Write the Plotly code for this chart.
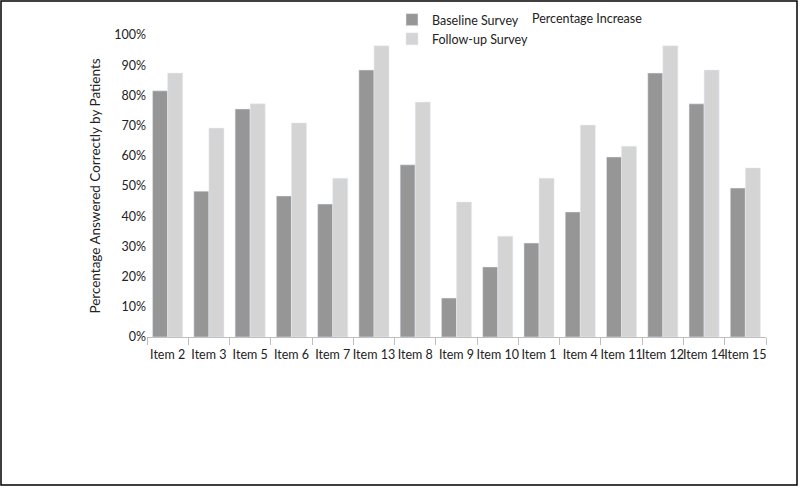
import plotly.graph_objects as go

items = ["Item 2", "Item 3", "Item 5", "Item 6", "Item 7", "Item 13", "Item 8", "Item 9",
         "Item 10", "Item 1", "Item 4", "Item 11", "Item 12", "Item 14", "Item 15"]
baseline = [0.815, 0.483, 0.755, 0.467, 0.44, 0.884, 0.57, 0.129,
            0.232, 0.311, 0.414, 0.596, 0.874, 0.772, 0.493]
followup = [0.874, 0.692, 0.772, 0.709, 0.526, 0.964, 0.778, 0.447,
            0.334, 0.526, 0.702, 0.632, 0.964, 0.884, 0.56]

fnt = "Lato, 'Open Sans', sans-serif"

fig = go.Figure()
fig.add_trace(go.Bar(x=items, y=baseline, name="Baseline Survey", marker_color="#969696"))
fig.add_trace(go.Bar(x=items, y=followup, name="Follow-up Survey", marker_color="#d4d4d4"))

# plot area: x 147..766, y 35..337 (pixels)
L, R, T, B = 147, 34, 35, 151
pw, ph = 800 - L - R, 488 - T - B

fig.update_layout(
    width=800, height=488,
    margin=dict(l=L, r=R, t=T, b=B, autoexpand=False),
    plot_bgcolor="white", paper_bgcolor="white",
    barmode="group", bargap=0.27, bargroupgap=0,
    font=dict(family=fnt, size=12, color="#222"),
    legend=dict(x=(392 - L) / pw, y=(337 - 5) / ph, xanchor="left", yanchor="top",
                bgcolor="rgba(0,0,0,0)", font=dict(size=12.5), tracegroupgap=0,
                itemwidth=30),
    showlegend=True,
)
fig.update_xaxes(showline=True, linecolor="#bfbfbf", ticks="outside", tickson="boundaries",
                 tickcolor="#bfbfbf", ticklen=7, showgrid=False, tickangle=0,
                 automargin=False, tickfont=dict(size=12.5), ticklabelstandoff=6)
fig.update_yaxes(range=[0, 1], dtick=0.1, tickformat=".0%", showgrid=False, showline=False,
                 zeroline=False, ticks="", tickfont=dict(size=12.5), automargin=False,
                 title=dict(text="Percentage Answered Correctly by Patients",
                            font=dict(size=13.5), standoff=10))
fig.add_annotation(text="Percentage Increase", xref="paper", yref="paper",
                   x=(530 - L) / pw, y=(337 - 18) / ph, xanchor="left", yanchor="middle",
                   showarrow=False, font=dict(size=12.5))
# outer frame
fig.add_shape(type="rect", xref="paper", yref="paper",
              x0=(1 - L) / pw, x1=(797 - L) / pw, y0=(337 - 485) / ph, y1=(337 - 1) / ph,
              line=dict(color="black", width=1.5), layer="above")

fig.write_html("out.html", config={"displayModeBar": False},
               post_script="document.body.style.margin='0';")
